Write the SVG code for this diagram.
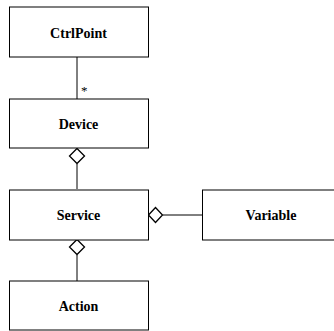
<svg xmlns="http://www.w3.org/2000/svg" width="334" height="331" viewBox="0 0 334 331">
<style>
.box{fill:#fff;stroke:#000;stroke-width:1}
.lbl{font-family:'Liberation Serif','Times New Roman',serif;font-weight:bold;font-size:14px;text-anchor:middle;fill:#000}
.ln{stroke:#000;stroke-width:1;fill:none}
.dia{fill:#fff;stroke:#000;stroke-width:1.3}
.mult{font-family:'Liberation Serif','Times New Roman',serif;font-size:13px;fill:#000}
</style>
<rect width="334" height="331" fill="#fff"/>
<g id="connectors">
<line class="ln" x1="77" y1="57" x2="77" y2="99"/>
<text class="mult" x="81" y="95">*</text>
<line class="ln" x1="77" y1="164" x2="77" y2="189"/>
<polygon class="dia" points="77,148.5 84.5,156 77,163.5 69.5,156"/>
<line class="ln" x1="77" y1="255" x2="77" y2="281"/>
<polygon class="dia" points="77,239.5 84.5,247 77,254.5 69.5,247"/>
<line class="ln" x1="163" y1="215" x2="203" y2="215"/>
<polygon class="dia" points="148.5,215 155.5,207.5 162.5,215 155.5,222.5"/>
</g>
<g id="CtrlPoint">
<rect class="box" x="9.5" y="7" width="139" height="50"/>
<text class="lbl" x="78.5" y="37.5">CtrlPoint</text>
</g>
<g id="Device">
<rect class="box" x="9.5" y="99" width="139" height="49"/>
<text class="lbl" x="78.5" y="128.5">Device</text>
</g>
<g id="Service">
<rect class="box" x="9.5" y="190" width="139" height="50"/>
<text class="lbl" x="78.5" y="220">Service</text>
</g>
<g id="Action">
<rect class="box" x="9.5" y="281" width="139" height="49"/>
<text class="lbl" x="78.5" y="311">Action</text>
</g>
<g id="Variable">
<rect class="box" x="202.5" y="190" width="137" height="50"/>
<text class="lbl" x="271" y="220">Variable</text>
</g>
</svg>
